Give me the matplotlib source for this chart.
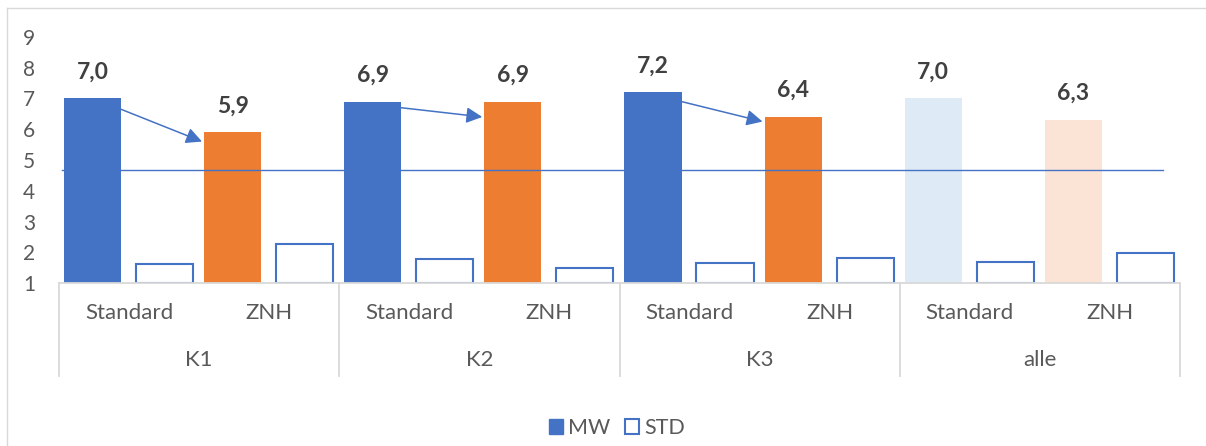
import matplotlib.pyplot as plt
import numpy as np
from matplotlib.lines import Line2D
from matplotlib.patches import Patch

plt.rcParams['font.family'] = ['Lato', 'DejaVu Sans']

groups = ['K1', 'K2', 'K3', 'alle']
conditions = ['Standard', 'ZNH']
mw = [7.0, 5.9, 6.9, 6.9, 7.2, 6.4, 7.0, 6.3]
std = [1.61, 2.26, 1.77, 1.50, 1.66, 1.82, 1.69, 1.97]
threshold = 4.67
# arrows Standard -> ZNH (drop below bar tops where they start / end)
arrow_start_drop = [0.35, 0.2, 0.3]
arrow_end_drop = [0.3, 0.5, 0.15]

blue = '#4472C4'
orange = '#ED7D31'
light_blue = '#DEEAF6'
light_orange = '#FBE4D6'
grey = '#D9D9D9'
text_col = '#595959'

W, H = 1206, 446
fig = plt.figure(figsize=(W / 100, H / 100), dpi=100)
ax = fig.add_axes([59 / W, 1 - 283 / H, (1180 - 59) / W, 246 / H])

x = np.arange(len(mw))
w = 0.407
off_mw, off_std = -0.261, 0.253
mw_colors = [blue, orange] * 3 + [light_blue, light_orange]

ax.bar(x + off_mw, np.array(mw) - 1, bottom=1, width=w, color=mw_colors, zorder=1)
ax.bar(x + off_std, np.array(std) - 1, bottom=1, width=w, facecolor='white',
       edgecolor=blue, linewidth=1.5, zorder=1)

for xi, v in zip(x, mw):
    ax.annotate(f'{v:.1f}'.replace('.', ','), (xi + off_mw, v), xytext=(0, 19),
                textcoords='offset points', ha='center', va='center',
                fontsize=16.5, fontweight='bold', color='#404040')

# threshold line
ax.plot([-0.479, 7.38], [threshold, threshold], color=blue, lw=1, zorder=3)

# arrows
for k in range(3):
    i = 2 * k
    x0 = i + off_mw + w / 2
    x1 = i + 1 + off_mw - w / 2 - 0.015
    ax.annotate('', xy=(x1, mw[i + 1] - arrow_end_drop[k]),
                xytext=(x0, mw[i] - arrow_start_drop[k]),
                arrowprops=dict(arrowstyle='-|>', color=blue, lw=1.1,
                                mutation_scale=24, shrinkA=0, shrinkB=0))

ax.set_xlim(-0.5, 7.5)
ax.set_ylim(1, 9)
ax.set_yticks(range(1, 10))
ax.set_xticks([])
ax.tick_params(axis='y', length=0, pad=17, labelsize=15, labelcolor=text_col)
for s in ['top', 'right', 'left']:
    ax.spines[s].set_visible(False)
ax.spines['bottom'].set_color(grey)
ax.spines['bottom'].set_linewidth(1.3)
ax.spines['bottom'].set_zorder(4)

# two-level category axis
trans = ax.get_xaxis_transform()
for i in range(len(mw)):
    ax.text(i, -0.122, conditions[i % 2], transform=trans, ha='center', va='center',
            fontsize=16, color=text_col)
for g, name in enumerate(groups):
    ax.text(2 * g + 0.5, -0.313, name, transform=trans, ha='center', va='center',
            fontsize=16, color=text_col)
for b in [-0.5, 1.5, 3.5, 5.5, 7.5]:
    ax.plot([b, b], [0, -0.378], transform=trans, clip_on=False, color=grey, lw=1.3)

handles = [Patch(facecolor=blue, edgecolor=blue),
           Patch(facecolor='white', edgecolor=blue, linewidth=1.5)]
fig.legend(handles, ['MW', 'STD'], loc='center', bbox_to_anchor=(617 / W, 1 - 428 / H),
           ncol=2, frameon=False, fontsize=15.5, handlelength=0.65, handleheight=0.65,
           handletextpad=0.25, columnspacing=0.7, labelcolor=text_col)

# chart frame
fig.add_artist(Line2D([7 / W, 7 / W], [0, 1 - 8 / H], color=grey, lw=1))
fig.add_artist(Line2D([7 / W, 1], [1 - 8 / H, 1 - 8 / H], color=grey, lw=1))

fig.savefig('out.png', dpi=100)
